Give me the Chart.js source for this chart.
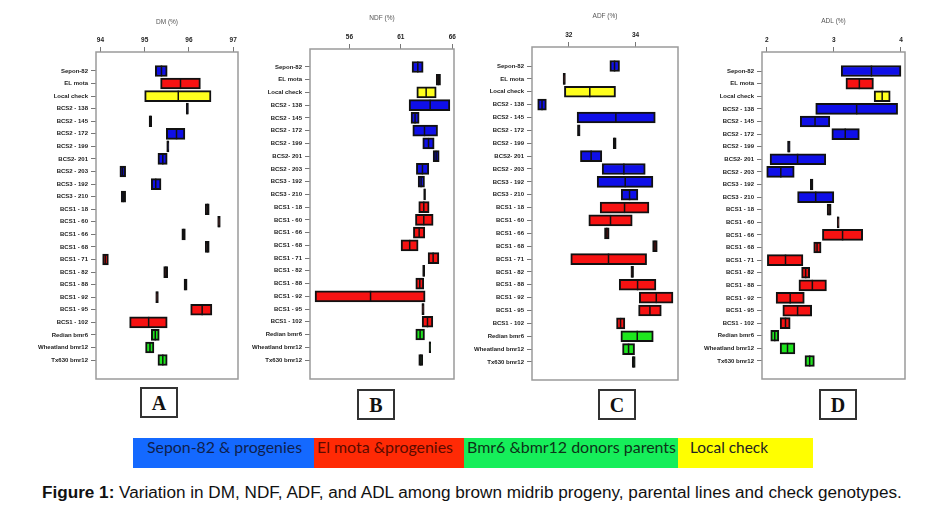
<!DOCTYPE html>
<html>
<head>
<meta charset="utf-8">
<script src="https://cdn.jsdelivr.net/npm/chart.js@4.4.1/dist/chart.umd.min.js"></script>
<style>
  body { margin: 0; width: 929px; height: 516px; background: #fff; position: relative; overflow: hidden; }
  canvas { position: absolute; }
  .tag { position: absolute; width: 34px; height: 27px; border: 2px solid #333; text-align: center;
         font: bold 20px "Liberation Serif", "Times New Roman", serif; line-height: 29px; color: #111; }
  .key { position: absolute; top: 438px; height: 30px; line-height: 30px; white-space: nowrap; overflow: hidden;
         font: 15px Lato, "Noto Sans", sans-serif; }
  .key span, #caption { display: inline-block; transform-origin: 0 50%; }
  #caption { position: absolute; left: 42px; top: 484px; white-space: nowrap; color: #111;
             font: 16px "Liberation Sans Narrow", "Liberation Sans", Arial, sans-serif; }
</style>
</head>
<body>
<canvas id="dmChart"></canvas>
<canvas id="ndfChart"></canvas>
<canvas id="adfChart"></canvas>
<canvas id="adlChart"></canvas>

<div class="tag" style="left:140px; top:387px;">A</div>
<div class="tag" style="left:357px; top:389px;">B</div>
<div class="tag" style="left:598px; top:389px;">C</div>
<div class="tag" style="left:819px; top:389px;">D</div>

<div class="key" style="left:133px; width:181px; background:#1469ff; color:#0f1f4d;"><span data-w="155" style="margin-left:14px">Sepon-82 &amp; progenies</span></div>
<div class="key" style="left:314px; width:150px; background:#ff2a05; color:#5c0a00;"><span data-w="136" style="margin-left:3px">El mota &amp;progenies</span></div>
<div class="key" style="left:464px; width:214px; background:#16ee5a; color:#0d3318;"><span data-w="209" style="margin-left:3px">Bmr6 &amp;bmr12 donors parents</span></div>
<div class="key" style="left:678px; width:135px; background:#ffff00; color:#222;"><span data-w="78" style="margin-left:12px">Local check</span></div>

<div id="caption" data-w="860"><b>Figure 1:</b> Variation in DM, NDF, ADF, and ADL among brown midrib progeny, parental lines and check genotypes.</div>

<script>
// genotypes, top to bottom
const genotypes = ['Sepon-82', 'EL mota', 'Local check', 'BCS2 - 138', 'BCS2 - 145', 'BCS2 - 172', 'BCS2 - 199',
    'BCS2- 201', 'BCS2 - 203', 'BCS3 - 192', 'BCS3 - 210', 'BCS1 - 18', 'BCS1 - 60', 'BCS1 - 66', 'BCS1 - 68',
    'BCS1 - 71', 'BCS1 - 82', 'BCS1 - 88', 'BCS1 - 92', 'BCS1 - 95', 'BCS1 - 102', 'Redian bmr6',
    'Wheatland bmr12', 'Tx630 bmr12'];
const groups = ['sepon', 'elmota', 'check', 'sepon', 'sepon', 'sepon', 'sepon', 'sepon', 'sepon', 'sepon', 'sepon',
    'elmota', 'elmota', 'elmota', 'elmota', 'elmota', 'elmota', 'elmota', 'elmota', 'elmota', 'elmota',
    'donor', 'donor', 'donor'];

// DM (%)
const dmLow  = [95.24, 95.36, 95.00, 95.94, 95.10, 95.49, 95.50, 95.30, 94.44, 95.15, 94.47, 96.37, 96.65, 95.84, 96.37, 94.05, 95.43, 95.89, 95.25, 96.04, 94.66, 95.15, 95.02, 95.30];
const dmMid  = [95.38, 95.81, 95.76, 95.96, 95.13, 95.72, 95.52, 95.41, 94.50, 95.25, 94.52, 96.42, 96.68, 95.88, 96.42, 94.11, 95.48, 95.92, 95.28, 96.30, 95.09, 95.24, 95.12, 95.41];
const dmHigh = [95.51, 96.26, 96.50, 95.99, 95.16, 95.91, 95.55, 95.51, 94.57, 95.37, 94.57, 96.46, 96.71, 95.92, 96.46, 94.18, 95.52, 95.96, 95.31, 96.52, 95.51, 95.33, 95.21, 95.51];
const dmTicks = [94, 95, 96, 97];

// NDF (%)
const ndfLow  = [62.09, 64.44, 62.55, 61.80, 61.99, 62.16, 63.13, 64.14, 62.51, 62.68, 63.22, 62.74, 62.42, 62.22, 61.02, 63.65, 63.12, 62.45, 52.65, 63.04, 63.07, 62.45, 63.74, 62.74];
const ndfMid  = [62.65, 64.65, 63.46, 63.85, 62.38, 63.30, 63.69, 64.43, 63.10, 62.97, 63.31, 63.23, 63.23, 62.78, 61.86, 64.14, 63.22, 62.84, 58.05, 63.15, 63.59, 62.87, 63.82, 62.94];
const ndfHigh = [63.17, 64.86, 64.44, 65.77, 62.78, 64.57, 64.24, 64.73, 63.72, 63.30, 63.40, 63.75, 64.14, 63.33, 62.68, 64.70, 63.32, 63.23, 63.36, 63.27, 64.11, 63.30, 63.90, 63.13];
const ndfTicks = [56, 61, 66];

// ADF (%)
const adfLow  = [33.23, 31.83, 31.87, 31.07, 32.25, 32.26, 33.33, 32.35, 33.00, 32.85, 33.57, 32.94, 32.60, 33.07, 34.51, 32.06, 33.86, 33.51, 34.11, 34.09, 33.43, 33.56, 33.61, 33.90];
const adfMid  = [33.37, 31.86, 32.63, 31.20, 33.41, 32.30, 33.37, 32.67, 33.65, 33.69, 33.82, 33.67, 33.25, 33.14, 34.58, 33.19, 33.90, 34.06, 34.62, 34.43, 33.55, 34.05, 33.79, 33.94];
const adfHigh = [33.52, 31.90, 33.40, 31.33, 34.59, 32.34, 33.42, 32.99, 34.29, 34.52, 34.07, 34.40, 33.90, 33.21, 34.65, 34.33, 33.94, 34.61, 35.12, 34.77, 33.68, 34.53, 33.97, 33.99];
const adfTicks = [32, 34];

// ADL (%)
const adlLow  = [3.11, 3.18, 3.60, 2.73, 2.50, 2.97, 2.31, 2.05, 2.00, 2.65, 2.46, 2.90, 3.05, 2.83, 2.70, 2.01, 2.52, 2.48, 2.14, 2.24, 2.20, 2.06, 2.20, 2.57];
const adlMid  = [3.56, 3.38, 3.72, 3.34, 2.72, 3.17, 2.33, 2.46, 2.21, 2.67, 2.73, 2.93, 3.06, 3.13, 2.75, 2.28, 2.58, 2.68, 2.35, 2.46, 2.28, 2.12, 2.31, 2.64];
const adlHigh = [4.00, 3.59, 3.84, 3.95, 2.94, 3.38, 2.35, 2.88, 2.41, 2.69, 3.00, 2.96, 3.08, 3.43, 2.81, 2.54, 2.64, 2.89, 2.56, 2.67, 2.35, 2.18, 2.42, 2.71];
const adlTicks = [2, 3, 4];

const groupColors = { sepon: '#0f0fe8', elmota: '#f71212', check: '#ffff1e', donor: '#1ee61e' };

// draws the grey box round the plot area
const frame = {
    id: 'frame',
    afterDraw(chart) {
        const a = chart.chartArea, ctx = chart.ctx;
        ctx.save();
        ctx.strokeStyle = '#9a9a9a';
        ctx.lineWidth = 1.5;
        ctx.strokeRect(a.left, a.top, a.right - a.left, a.bottom - a.top);
        ctx.restore();
    }
};

function makePanel(id, title, low, mid, high, ticks, box) {
    const canvas = document.getElementById(id);
    const w = box.right - box.x + 3, h = box.bottom + 3;
    canvas.width = w; canvas.height = h;
    canvas.style.left = box.x + 'px'; canvas.style.top = '0px';
    canvas.style.width = w + 'px'; canvas.style.height = h + 'px';

    return new Chart(canvas.getContext('2d'), {
        type: 'bar',
        data: {
            datasets: [{
                type: 'scatter',
                data: mid.map((v, i) => ({ x: v, y: i })),
                pointStyle: 'line',
                rotation: 90,
                radius: 5.5,
                borderColor: '#111',
                borderWidth: 1.5,
                clip: false
            }, {
                data: genotypes.map((g, i) => ({ x: [low[i], high[i]], y: i })),
                backgroundColor: groups.map(g => groupColors[g]),
                borderColor: '#111',
                borderWidth: 2,
                borderSkipped: false,
                barThickness: 11
            }]
        },
        options: {
            indexAxis: 'y',
            responsive: false,
            animation: false,
            events: [],
            layout: { autoPadding: false, padding: { left: 0, top: 0, right: 3, bottom: 3 } },
            plugins: { legend: { display: false }, tooltip: { enabled: false } },
            scales: {
                x: {
                    type: 'linear',
                    position: 'top',
                    offset: false,
                    min: box.min, max: box.max,
                    afterBuildTicks: axis => { axis.ticks = ticks.map(v => ({ value: v })); },
                    afterFit: axis => { axis.height = box.top; axis.paddingLeft = 0; axis.paddingRight = 0; },
                    grid: { drawOnChartArea: false, offset: false, color: '#777', tickLength: 5 },
                    border: { display: false },
                    ticks: { color: '#222', padding: 3, font: { family: 'Liberation Sans', size: 6.5, weight: 'bold' } },
                    title: {
                        display: true, text: title, color: '#555',
                        padding: { top: box.titleY - 4, bottom: 0 },
                        font: { family: 'Liberation Sans', size: 6.5 }
                    }
                },
                y: {
                    type: 'linear',
                    reverse: true,
                    offset: false,
                    min: box.rowMin, max: box.rowMax,
                    afterBuildTicks: axis => { axis.ticks = genotypes.map((g, i) => ({ value: i })); },
                    afterFit: axis => { axis.width = box.left - box.x; axis.paddingTop = 0; axis.paddingBottom = 0; },
                    grid: { drawOnChartArea: false, offset: false, color: '#777', tickLength: 5 },
                    border: { display: false },
                    ticks: {
                        color: '#1a1a1a', padding: 3, autoSkip: false,
                        font: { family: 'Liberation Sans', size: 6, weight: 'bold' },
                        callback: v => genotypes[v]
                    }
                }
            }
        },
        plugins: [frame]
    });
}

makePanel('dmChart', 'DM (%)', dmLow, dmMid, dmHigh, dmTicks,
    { x: 0, left: 96, right: 238, top: 52, bottom: 379, titleY: 22, min: 93.90, max: 97.11, rowMin: -1.51, rowMax: 24.51 });
makePanel('ndfChart', 'NDF (%)', ndfLow, ndfMid, ndfHigh, ndfTicks,
    { x: 250, left: 310, right: 454, top: 49, bottom: 379, titleY: 18, min: 52.16, max: 66.17, rowMin: -1.41, rowMax: 24.49 });
makePanel('adfChart', 'ADF (%)', adfLow, adfMid, adfHigh, adfTicks,
    { x: 470, left: 532, right: 678, top: 47, bottom: 380, titleY: 16, min: 30.90, max: 35.27, rowMin: -1.48, rowMax: 24.40 });
makePanel('adlChart', 'ADL (%)', adlLow, adlMid, adlHigh, adlTicks,
    { x: 700, left: 762, right: 905, top: 52, bottom: 379, titleY: 21, min: 1.93, max: 4.06, rowMin: -1.51, rowMax: 24.43 });

// squeeze legend and caption texts to the widths they have in the figure
document.querySelectorAll('[data-w]').forEach(el => {
    const target = +el.dataset.w;
    const actual = el.getBoundingClientRect().width;
    if (actual > 0) el.style.transform = 'scaleX(' + (target / actual).toFixed(3) + ')';
});
</script>
</body>
</html>
